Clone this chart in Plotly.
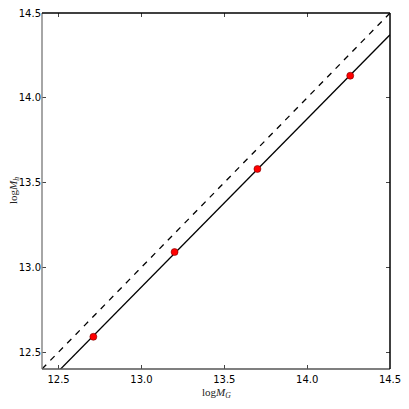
import numpy as np
import plotly.graph_objects as go

# group mass vs halo mass
log_mg = [12.71, 13.20, 13.70, 14.26]
log_mh = [12.59, 13.09, 13.58, 14.13]

x_range = [12.4, 14.5]
y_range = [12.4, 14.5]
tick_vals = [12.5, 13.0, 13.5, 14.0, 14.5]

# linear fit through the points
slope, intercept = np.polyfit(log_mg, log_mh, 1)
line_x = np.array(x_range)
line_y = slope * line_x + intercept

fig = go.Figure()

# one-to-one
fig.add_trace(go.Scatter(
    x=x_range, y=x_range, mode="lines",
    line=dict(color="black", width=1.3, dash="6px,6px"),
    hoverinfo="skip",
))

fig.add_trace(go.Scatter(
    x=line_x, y=line_y, mode="lines",
    line=dict(color="black", width=1.3),
    hoverinfo="skip",
))

fig.add_trace(go.Scatter(
    x=log_mg, y=log_mh, mode="markers",
    marker=dict(color="red", size=7, line=dict(color="#7a0000", width=0.6)),
))

axis_common = dict(
    showgrid=False, zeroline=False,
    showline=False, automargin=False,
    ticks="inside", ticklen=4, tickwidth=0.8, tickcolor="#444",
    mirror="ticks", ticklabeloverflow="allow",
    tickvals=tick_vals, tickformat=".1f",
    tickfont=dict(family="DejaVu Sans", size=10, color="black"),
)

fig.update_xaxes(range=x_range, ticklabelstandoff=3, **axis_common)
fig.update_yaxes(range=y_range, ticklabelstandoff=0, **axis_common)

title_font = dict(family="Liberation Serif", size=11, color="#222")
fig.add_annotation(text="log<i>M</i><sub><i>G</i></sub>", xref="paper", yref="paper",
                   x=0.5, y=0, yanchor="middle", yshift=-24, showarrow=False,
                   font=title_font)
fig.add_annotation(text="log<i>M</i><sub><i>h</i></sub>", xref="paper", yref="paper",
                   x=0, y=0.5, xanchor="center", xshift=-28, textangle=-90,
                   showarrow=False, font=title_font)

# frame: grey left/bottom, black top/right
fig.add_shape(type="line", xref="paper", yref="paper", x0=0, x1=0, y0=0, y1=1,
              line=dict(color="#888", width=1.5))
fig.add_shape(type="line", xref="paper", yref="paper", x0=0, x1=1, y0=0, y1=0,
              line=dict(color="#555", width=1.5))
fig.add_shape(type="line", xref="paper", yref="paper", x0=0, x1=1, y0=1, y1=1,
              line=dict(color="black", width=1.5))
fig.add_shape(type="line", xref="paper", yref="paper", x0=1, x1=1, y0=0, y1=1,
              line=dict(color="black", width=1.5))

fig.update_layout(
    width=393, height=393,
    margin=dict(l=34, r=11, t=5, b=32),
    plot_bgcolor="white", paper_bgcolor="white",
    showlegend=False,
)

fig.write_html("out.html")
